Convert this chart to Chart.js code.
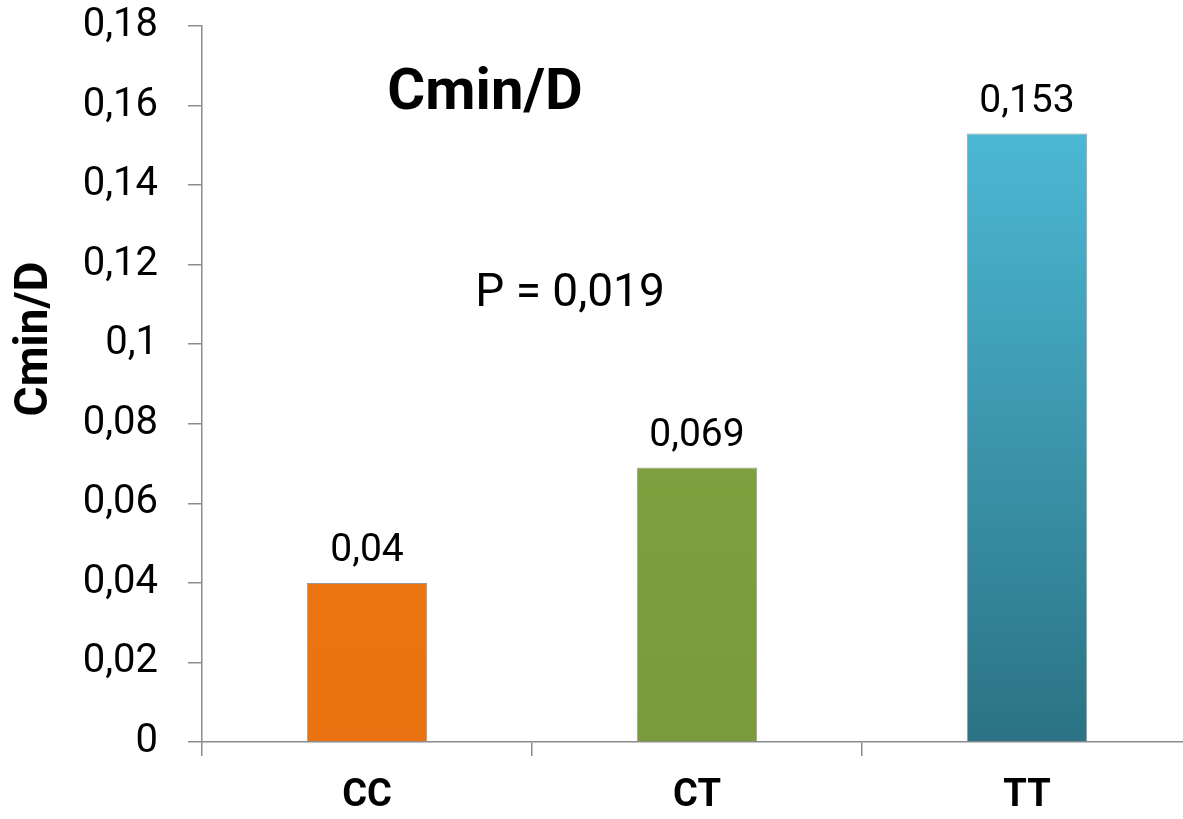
<!DOCTYPE html>
<html>
<head>
<meta charset="utf-8">
<script src="https://cdn.jsdelivr.net/npm/chart.js@4.4.1/dist/chart.umd.min.js"></script>
<style>
  html, body { margin: 0; padding: 0; background: #fff; overflow: hidden; }
  #wrap { width: 1200px; height: 819px; }
</style>
</head>
<body>
<div id="wrap"><canvas id="bar-chart-cmin" width="1200" height="819"></canvas></div>
<script>
// data
var genotypes = ["CC", "CT", "TT"];
var cminD = [0.04, 0.069, 0.153];
var yTickLabels = ["0", "0,02", "0,04", "0,06", "0,08", "0,1", "0,12", "0,14", "0,16", "0,18"];
var pValue = "P = 0,019";
var chartTitle = "Cmin/D";
var yTitle = "Cmin/D";

// top / bottom colours of each bar
var barTop = ["#F3801A", "#87A946", "#52C4E2"];
var barBottom = ["#EA7210", "#7A9A3B", "#2B7384"];

var axisGray = "#8c8c8c";

function barFill(context) {
    var chart = context.chart;
    var area = chart.chartArea;
    if (!area) return barTop[context.dataIndex];
    var g = chart.ctx.createLinearGradient(0, area.top, 0, area.bottom);
    g.addColorStop(0, barTop[context.dataIndex]);
    g.addColorStop(1, barBottom[context.dataIndex]);
    return g;
}

// value labels over the bars + the free texts
var labelsPlugin = {
    id: 'labels',
    afterDatasetsDraw: function (chart) {
        var ctx = chart.ctx;
        var meta = chart.getDatasetMeta(0);
        ctx.save();
        ctx.fillStyle = "#000";
        ctx.textAlign = "center";
        ctx.textBaseline = "bottom";
        ctx.font = "39px Roboto";
        meta.data.forEach(function (bar, i) {
            ctx.fillText(String(cminD[i]).replace(".", ","), bar.x, bar.y - 12);
        });
        var a = chart.chartArea;
        ctx.textBaseline = "middle";
        ctx.font = "bold 58px Roboto";
        ctx.fillText(chartTitle, a.left + 283, a.top + 68);
        ctx.font = "46px Roboto";
        ctx.fillText(pValue, a.left + 368, a.top + 268);
        // y axis title
        ctx.translate(35, 339);
        ctx.rotate(-Math.PI / 2);
        ctx.font = "bold 46px Roboto";
        ctx.fillText(yTitle, 0, 0);
        ctx.restore();
    }
};

new Chart(document.getElementById("bar-chart-cmin"), {
    type: 'bar',
    data: {
        labels: genotypes,
        datasets: [{
            label: "Cmin/D",
            data: cminD,
            backgroundColor: barFill,
            borderColor: "#9a9a9a",
            borderWidth: 1,
            barPercentage: 0.365,
            categoryPercentage: 1
        }]
    },
    options: {
        responsive: false,
        animation: false,
        layout: { padding: { left: 7, right: 8, top: 0, bottom: 0 } },
        plugins: {
            legend: { display: false },
            tooltip: { enabled: false }
        },
        scales: {
            x: {
                grid: {
                    offset: true,
                    drawOnChartArea: false,
                    drawTicks: true,
                    tickLength: 14,
                    color: axisGray,
                    lineWidth: 1.5
                },
                border: { color: axisGray, width: 1.5 },
                ticks: {
                    color: "#000",
                    padding: 18,
                    font: { family: "Roboto", size: 38, weight: 'bold' }
                },
                afterFit: function (scale) { scale.height = 77; }
            },
            y: {
                min: 0,
                max: 0.18,
                ticks: {
                    stepSize: 0.02,
                    color: "#000",
                    padding: 30,
                    font: { family: "Roboto", size: 40 },
                    callback: function (value, index) { return yTickLabels[index]; }
                },
                grid: {
                    drawOnChartArea: false,
                    drawTicks: true,
                    tickLength: 14,
                    color: axisGray,
                    lineWidth: 1.5
                },
                border: { color: axisGray, width: 1.5 },
                afterFit: function (scale) {
                    scale.width = 195;
                    scale.paddingTop = 26;
                    scale.paddingBottom = 0;
                }
            }
        }
    },
    plugins: [labelsPlugin]
});
</script>
</body>
</html>
